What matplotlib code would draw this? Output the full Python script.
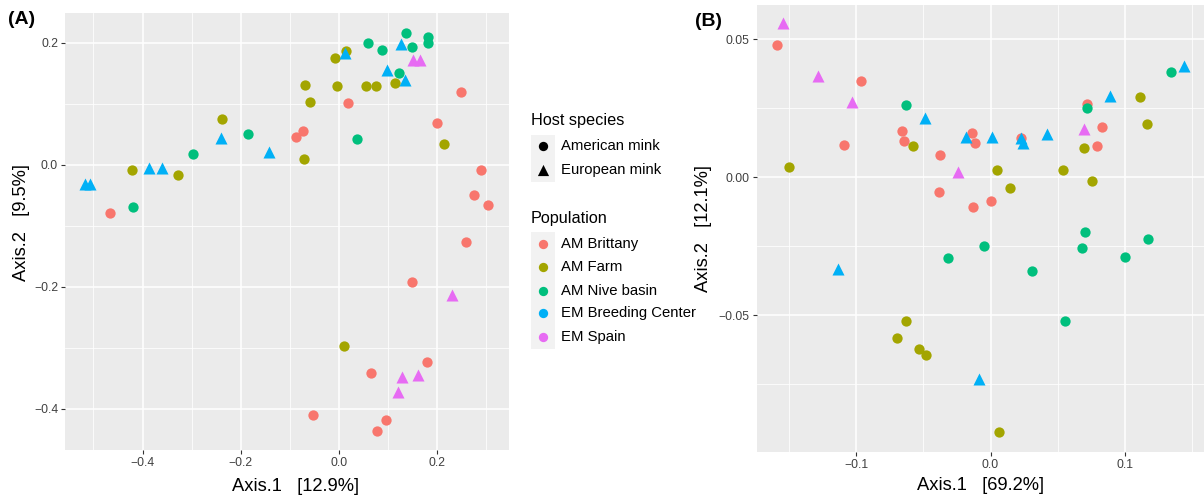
import numpy as np
import matplotlib
matplotlib.use("Agg")
import matplotlib.pyplot as plt
from matplotlib.ticker import MultipleLocator
from matplotlib.patches import Rectangle

plt.rcParams['font.family'] = ['Liberation Sans', 'DejaVu Sans']

populations = ['AM Brittany', 'AM Farm', 'AM Nive basin', 'EM Breeding Center', 'EM Spain']
pop_colors = ['#F8766D', '#A3A500', '#00BF7D', '#00B0F6', '#E76BF3']
hosts = ['American mink', 'European mink']
host_of_pop = [0, 0, 0, 1, 1]

# Panel A (Axis.1 12.9%, Axis.2 9.5%)
a_x = [-0.466, -0.088, -0.074, 0.018, 0.249, 0.200, 0.289, 0.275, 0.304, 0.258, 0.148, 0.065, 0.179, -0.054, 0.095, 0.077,
       -0.422, -0.328, -0.239, -0.071, -0.069, -0.060, -0.009, 0.014, -0.005, 0.055, 0.075, 0.114, 0.213, 0.010,
       -0.298, -0.186, 0.037, 0.059, 0.088, 0.123, 0.137, 0.149, 0.181, 0.181, -0.420,
       -0.517, -0.507, -0.386, -0.360, -0.240, -0.142, 0.012, 0.098, 0.126, 0.134,
       0.151, 0.165, 0.230, 0.128, 0.161, 0.119]
a_y = [-0.079, 0.045, 0.055, 0.102, 0.120, 0.069, -0.008, -0.049, -0.066, -0.126, -0.192, -0.342, -0.324, -0.410, -0.418, -0.436,
       -0.008, -0.017, 0.076, 0.010, 0.131, 0.103, 0.176, 0.186, 0.130, 0.130, 0.130, 0.135, 0.034, -0.298,
       0.018, 0.051, 0.043, 0.200, 0.189, 0.151, 0.216, 0.194, 0.209, 0.200, -0.070,
       -0.031, -0.031, -0.006, -0.006, 0.044, 0.021, 0.184, 0.155, 0.198, 0.140,
       0.172, 0.172, -0.214, -0.349, -0.345, -0.373]
a_pop = [0]*16 + [1]*14 + [2]*11 + [3]*10 + [4]*6

# Panel B (Axis.1 69.2%, Axis.2 12.1%)
b_x = [-0.159, -0.0965, -0.109, -0.0657, -0.064, -0.0376, -0.0137, -0.0117, -0.038, -0.0129, 0.0, 0.0226, 0.0789, 0.0828, 0.0714,
       -0.150, -0.0575, 0.005, 0.0142, 0.0537, 0.0692, 0.0754, 0.1114, 0.1164, -0.0627, -0.0692, -0.0528, -0.0483, 0.0065,
       -0.063, 0.0714, 0.1343, 0.0699, 0.1172, -0.005, 0.0677, -0.0313, 0.0998, 0.0306, 0.0555,
       -0.049, -0.0181, 0.001, 0.0224, 0.0244, 0.0423, 0.0886, 0.1438, -0.1132, -0.0082,
       -0.154, -0.128, -0.103, -0.0241, 0.0692]
b_y = [0.0479, 0.0348, 0.0117, 0.0168, 0.0133, 0.0082, 0.0159, 0.0123, -0.0052, -0.0107, -0.0086, 0.0141, 0.0113, 0.0181, 0.0266,
       0.0036, 0.0113, 0.0026, -0.0038, 0.0026, 0.0107, -0.0012, 0.0292, 0.0193, -0.0521, -0.0582, -0.0621, -0.0643, -0.0923,
       0.0261, 0.0250, 0.0383, -0.0199, -0.0222, -0.0248, -0.0257, -0.0292, -0.0288, -0.0339, -0.0520,
       0.0216, 0.0147, 0.0145, 0.0141, 0.0125, 0.0157, 0.0296, 0.0404, -0.0333, -0.0732,
       0.0558, 0.0367, 0.0274, 0.0020, 0.0175]
b_pop = [0]*15 + [1]*14 + [2]*11 + [3]*10 + [4]*5

W, H = 1204, 501
fig = plt.figure(figsize=(W/100, H/100), dpi=100)

def px_axes(l, t, r, b):
    return fig.add_axes([l/W, 1 - b/H, (r - l)/W, (b - t)/H])

def style(ax):
    ax.set_facecolor('#EBEBEB')
    for s in ax.spines.values():
        s.set_visible(False)
    ax.grid(True, which='major', color='white', lw=1.1)
    ax.grid(True, which='minor', color='white', lw=0.55)
    ax.set_axisbelow(True)
    ax.tick_params(which='major', length=3, width=0.8, color='#333333', labelsize=8.7, labelcolor='#404040', pad=2)
    ax.tick_params(which='minor', length=0)

def draw(ax, xs, ys, pops):
    xs, ys, pops = np.array(xs), np.array(ys), np.array(pops)
    for p in range(len(populations)):
        m = pops == p
        if host_of_pop[p] == 0:
            ax.scatter(xs[m], ys[m], s=55, marker='o', color=pop_colors[p], linewidths=0, zorder=3)
        else:
            ax.scatter(xs[m], ys[m], s=75, marker='^', color=pop_colors[p], linewidths=0, zorder=4)

axA = px_axes(65, 12.5, 509, 450)
style(axA)
draw(axA, a_x, a_y, a_pop)
axA.set_xlim(-0.558, 0.346)
axA.set_ylim(-0.468, 0.250)
axA.xaxis.set_minor_locator(MultipleLocator(0.1))
axA.yaxis.set_minor_locator(MultipleLocator(0.1))
axA.set_xticks([-0.4, -0.2, 0.0, 0.2])
axA.set_xticklabels(['\u22120.4', '\u22120.2', '0.0', '0.2'])
axA.set_yticks([-0.4, -0.2, 0.0, 0.2])
axA.set_yticklabels(['\u22120.4', '\u22120.2', '0.0', '0.2'])
axA.set_xlabel('Axis.1   [12.9%]', fontsize=13.2)
axA.set_ylabel('Axis.2   [9.5%]', fontsize=13.2)
axA.xaxis.set_label_coords(0.52, -0.063)
axA.yaxis.set_label_coords(-0.078, 0.52)

axB = px_axes(756.7, 5, 1204, 452.3)
style(axB)
draw(axB, b_x, b_y, b_pop)
axB.set_xlim(-0.1738, 0.1587)
axB.set_ylim(-0.0996, 0.0624)
axB.xaxis.set_minor_locator(MultipleLocator(0.05))
axB.yaxis.set_minor_locator(MultipleLocator(0.025))
axB.set_xticks([-0.1, 0.0, 0.1])
axB.set_xticklabels(['\u22120.1', '0.0', '0.1'])
axB.set_yticks([-0.05, 0.0, 0.05])
axB.set_yticklabels(['\u22120.05', '0.00', '0.05'])
axB.set_xlabel('Axis.1   [69.2%]', fontsize=13.2, labelpad=4)
axB.set_ylabel('Axis.2   [12.1%]', fontsize=13.2, labelpad=5)

fig.text(8/W, 1 - 20/H, '(A)', fontsize=14, fontweight='bold', va='center', ha='left')
fig.text(695/W, 1 - 22/H, '(B)', fontsize=14, fontweight='bold', va='center', ha='left')

# legend drawn in pixel coordinates
lax = fig.add_axes([0, 0, 1, 1])
lax.set_xlim(0, W)
lax.set_ylim(H, 0)
lax.axis('off')
lax.add_patch(Rectangle((531, 135), 24, 47, color='#F2F2F2', lw=0))
lax.add_patch(Rectangle((531, 232), 24, 117, color='#F2F2F2', lw=0))
lax.text(531, 120, 'Host species', fontsize=11.7, va='center', ha='left')
host_y = [146, 170]
for i, h in enumerate(hosts):
    lax.scatter([543], [host_y[i]], s=45 if i == 0 else 65, marker='o' if i == 0 else '^', color='black', linewidths=0)
    lax.text(561, host_y[i], h, fontsize=10.7, va='center', ha='left')
lax.text(531, 218, 'Population', fontsize=11.7, va='center', ha='left')
pop_y = [244, 267, 291, 313, 337]
for i, p in enumerate(populations):
    lax.scatter([543], [pop_y[i]], s=45, marker='o', color=pop_colors[i], linewidths=0)
    lax.text(561, pop_y[i], p, fontsize=10.7, va='center', ha='left')

fig.savefig('out.png', dpi=100)
